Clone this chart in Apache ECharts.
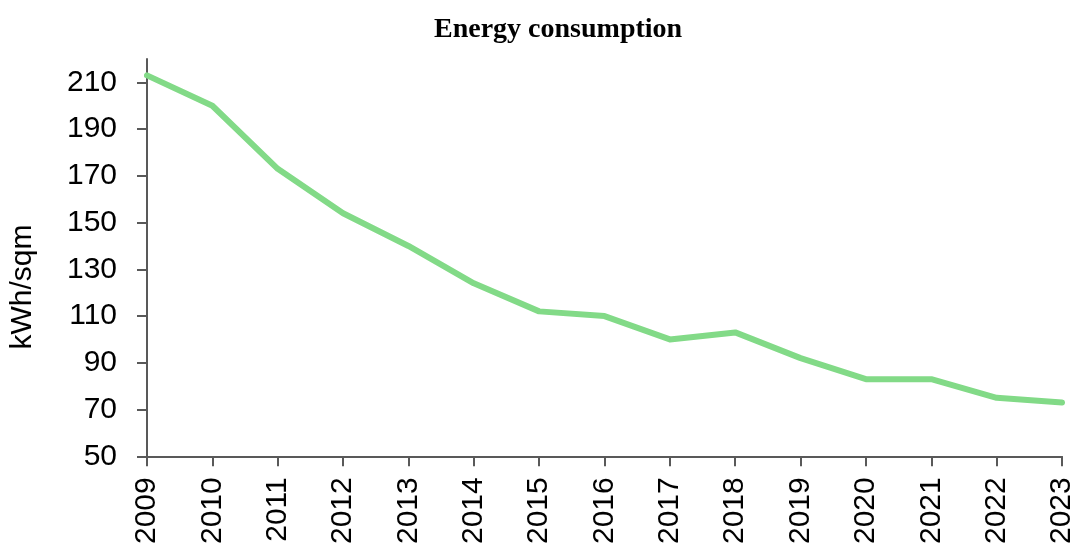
<!DOCTYPE html>
<html>
<head>
<meta charset="utf-8">
<script src="https://cdn.jsdelivr.net/npm/echarts@6/dist/echarts.min.js"></script>
<style>
  html, body { margin: 0; padding: 0; background: #ffffff; }
  #chart { width: 1077px; height: 547px; }
</style>
</head>
<body>
<div id="chart"></div>
<script>
// Annual energy use per square metre
const years = ['2009', '2010', '2011', '2012', '2013', '2014', '2015', '2016',
               '2017', '2018', '2019', '2020', '2021', '2022', '2023'];
const consumption = [213, 200, 173, 154, 140, 124, 112, 110, 100, 103, 92, 83, 83, 75, 73];
const yTicks = [50, 70, 90, 110, 130, 150, 170, 190, 210];

const axisGrey = '#595959';
const sansFont = 'Liberation Sans, Arial, sans-serif';
const labelFont = { fontFamily: sansFont, fontSize: 30, color: '#000000' };

const chart = echarts.init(document.getElementById('chart'), null, { renderer: 'canvas' });
chart.setOption({
  animation: false,
  backgroundColor: '#ffffff',
  title: {
    text: 'Energy consumption',
    left: 429,
    top: 11,
    textStyle: {
      fontFamily: 'Liberation Serif, Times New Roman, serif',
      fontWeight: 'bold',
      fontSize: 28,
      color: '#000000'
    }
  },
  // vertical axis title, centred a little below the plot middle
  graphic: [{
    type: 'text',
    x: 23,
    y: 287,
    rotation: Math.PI / 2,
    style: {
      text: 'kWh/sqm',
      fontFamily: sansFont,
      fontSize: 30,
      fill: '#000000',
      align: 'center',
      verticalAlign: 'middle'
    }
  }],
  grid: { left: 147, right: 15, top: 59, bottom: 90, containLabel: false },
  xAxis: {
    type: 'category',
    data: years,
    boundaryGap: false,
    axisLine: { lineStyle: { color: axisGrey, width: 2 } },
    axisTick: { show: true, length: 10, alignWithLabel: true, lineStyle: { color: axisGrey, width: 2 } },
    axisLabel: Object.assign({ rotate: 90, margin: 21, interval: 0 }, labelFont),
    splitLine: { show: false }
  },
  yAxis: {
    type: 'value',
    min: 50,
    max: 220,
    axisLine: { show: true, lineStyle: { color: axisGrey, width: 2 } },
    axisTick: { show: true, length: 10, customValues: yTicks, lineStyle: { color: axisGrey, width: 2 } },
    axisLabel: Object.assign({ margin: 30, customValues: yTicks }, labelFont),
    splitLine: { show: false }
  },
  series: [{
    type: 'line',
    data: consumption,
    showSymbol: false,
    symbol: 'none',
    lineStyle: { color: '#82da87', width: 6, cap: 'round', join: 'round' }
  }]
});
</script>
</body>
</html>
